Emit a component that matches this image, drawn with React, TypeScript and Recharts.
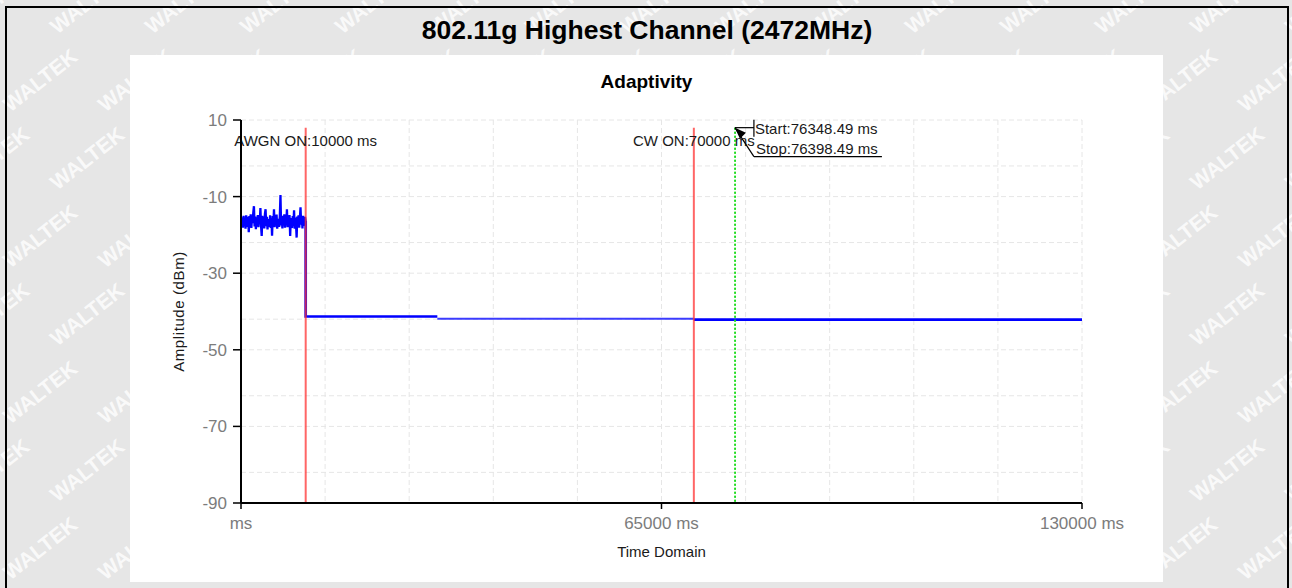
import React from 'react';
import { LineChart, Line, XAxis, YAxis, CartesianGrid, ReferenceLine } from 'recharts';

// ---------- data ----------
const noiseTimes = [
  0, 100, 200, 300, 400, 500, 600, 700, 800, 900,
  1000, 1100, 1200, 1300, 1400, 1500, 1600, 1700, 1800, 1900,
  2000, 2100, 2200, 2300, 2400, 2500, 2600, 2700, 2800, 2900,
  3000, 3100, 3200, 3300, 3400, 3500, 3600, 3700, 3800, 3900,
  4000, 4100, 4200, 4300, 4400, 4500, 4600, 4700, 4800, 4900,
  5000, 5100, 5200, 5300, 5400, 5500, 5600, 5700, 5800, 5900,
  6000, 6100, 6200, 6300, 6400, 6500, 6600, 6700, 6800, 6900,
  7000, 7100, 7200, 7300, 7400, 7500, 7600, 7700, 7800, 7900,
  8000, 8100, 8200, 8300, 8400, 8500, 8600, 8700, 8800, 8900,
  9000, 9100, 9200, 9300, 9400, 9500, 9600, 9700, 9800, 9900,
  10000,
];
const noiseValues = [
  -16.2, -17.5, -15.4, -18.1, -15.0, -17.2, -15.8, -18.4, -14.9, -16.6,
  -17.9, -15.3, -19.3, -15.1, -17.0, -14.6, -18.2, -15.5, -16.9, -14.2,
  -12.5, -17.8, -15.2, -18.5, -15.9, -17.1, -14.8, -18.0, -15.4, -16.8,
  -13.0, -17.6, -20.3, -15.0, -17.4, -15.7, -18.3, -14.5, -13.3, -17.7,
  -15.3, -18.6, -15.9, -16.4, -17.9, -14.9, -18.2, -15.6, -20.2, -15.1,
  -17.3, -13.3, -18.0, -15.5, -17.2, -14.7, -18.4, -15.8, -16.7, -17.9,
  -15.2, -9.6, -17.5, -15.4, -18.3, -15.0, -16.9, -14.6, -18.1, -15.7,
  -17.4, -13.3, -18.0, -15.3, -17.1, -14.8, -20.3, -15.6, -16.8, -18.2,
  -15.1, -17.6, -13.6, -18.4, -15.5, -17.0, -20.7, -15.2, -17.8, -14.9,
  -18.1, -15.7, -12.8, -17.3, -15.4, -18.3, -15.0, -16.9, -17.6, -15.3,
  -16.4,
];
const stepTimes1 = [10000, 10000, 30350];
const stepValues1 = [-16.4, -41.3, -41.3];
const stepTimes2 = [30350, 70000];
const stepValues2 = [-41.9, -41.9];
const stepTimes3 = [70000, 130000];
const stepValues3 = [-42.1, -42.1];

const xTicks = [0, 65000, 130000];
const yTicks = [10, -10, -30, -50, -70, -90];
const xGrid = [13000, 26000, 39000, 52000, 65000, 78000, 91000, 104000, 117000, 130000];
const yGrid = [10, -2, -10, -22, -30, -42, -50, -62, -70, -82, -90];

const awgnOnMs = [10000];
const cwOnMs = [70000];
const startMs = [76348.49];
const stopMs = [76398.49];
const markerTop = 8;

const mainTitle = '802.11g Highest Channel (2472MHz)';
const chartTitle = 'Adaptivity';
const yLabel = 'Amplitude (dBm)';
const xLabel = 'Time Domain';
const watermarkText = 'WALTEK';

const toData = (ts: number[], vs: number[]) => ts.map((t, i) => ({ t, v: vs[i] }));
const noiseData = toData(noiseTimes, noiseValues);
const step1 = toData(stepTimes1, stepValues1);
const step2 = toData(stepTimes2, stepValues2);
const step3 = toData(stepTimes3, stepValues3);

const FONT = '"Liberation Sans", Arial, sans-serif';

const Watermarks = () => {
  const items: React.ReactNode[] = [];
  for (let r = -1; r < 9; r++) {
    for (let c = -1; c < 15; c++) {
      const x = 40 + c * 95 + (r % 2 ? 47 : 0);
      const y = 80 + r * 78;
      items.push(
        <text
          key={`${r}-${c}`}
          x={x}
          y={y}
          transform={`rotate(-38 ${x} ${y})`}
          fontFamily={FONT}
          fontWeight="bold"
          fontSize={21}
          fill="#ffffff"
          fillOpacity={0.8}
          textAnchor="middle"
          dominantBaseline="central"
        >
          {watermarkText}
        </text>
      );
    }
  }
  return (
    <svg width={1292} height={588} style={{ position: 'absolute', left: 0, top: 0 }}>
      {items}
    </svg>
  );
};

const centeredLabel = (text: string) => (props: any) => {
  const vb = props.viewBox || {};
  return (
    <text x={vb.x} y={vb.y + 18} textAnchor="middle" fontFamily={FONT} fontSize={15} fill="#1a1a1a">
      {text}
    </text>
  );
};

const CalloutLabel = (props: any) => {
  const vb = props.viewBox || {};
  const x = vb.x;
  const y = vb.y;
  return (
    <g>
      <line x1={x} y1={y} x2={x + 19} y2={y} stroke="#000" strokeWidth={1.2} />
      <line x1={x + 19} y1={y - 8} x2={x + 19} y2={y + 9} stroke="#000" strokeWidth={1.2} />
      <line x1={x} y1={y} x2={x + 19} y2={y + 29} stroke="#000" strokeWidth={1.2} />
      <line x1={x + 19} y1={y + 29} x2={x + 147} y2={y + 29} stroke="#000" strokeWidth={1.2} />
      <polygon points={`${x},${y} ${x + 11},${y + 5} ${x + 5},${y + 11}`} fill="#000" />
      <text x={x + 20} y={y + 6} fontFamily={FONT} fontSize={15} fill="#1a1a1a">
        {`Start:${startMs[0]} ms`}
      </text>
      <text x={x + 21} y={y + 26} fontFamily={FONT} fontSize={15} fill="#1a1a1a">
        {`Stop:${stopMs[0]} ms`}
      </text>
    </g>
  );
};

export default function App() {
  return (
    <div style={{ position: 'relative', width: 1292, height: 588, overflow: 'hidden', background: '#e6e6e6' }}>
      <style>{`body{margin:0}`}</style>
      <Watermarks />
      <div
        style={{
          position: 'absolute',
          left: 5,
          top: 6,
          width: 1280,
          height: 600,
          border: '2px solid #000',
        }}
      />
      <div style={{ position: 'absolute', left: 130, top: 55, width: 1033, height: 527, background: '#fff' }} />
      <div
        style={{
          position: 'absolute',
          left: 0,
          top: 14,
          width: 1294,
          textAlign: 'center',
          fontFamily: FONT,
          fontWeight: 'bold',
          fontSize: 26.5,
          lineHeight: '32px',
          color: '#000',
        }}
      >
        {mainTitle}
      </div>
      <div
        style={{
          position: 'absolute',
          left: 130,
          top: 71,
          width: 1033,
          textAlign: 'center',
          fontFamily: FONT,
          fontWeight: 'bold',
          fontSize: 19,
          lineHeight: '22px',
          color: '#000',
        }}
      >
        {chartTitle}
      </div>
      <div style={{ position: 'absolute', left: 0, top: 0 }}>
        <LineChart width={1292} height={588} margin={{ top: 120, right: 210, bottom: 55, left: 181 }}>
          <CartesianGrid
            horizontalValues={yGrid}
            verticalValues={xGrid}
            stroke="#e6e6e6"
            strokeDasharray="5 3"
          />
          <XAxis
            dataKey="t"
            type="number"
            domain={[0, 130000]}
            ticks={xTicks}
            allowDataOverflow
            height={30}
            tickSize={6}
            tickMargin={8}
            axisLine={{ stroke: '#000', strokeWidth: 2 }}
            tickLine={{ stroke: '#000', strokeWidth: 1.5 }}
            tick={{ fill: '#7c7c7c', fontSize: 17, fontFamily: FONT }}
            tickFormatter={(v: number) => (v === 0 ? 'ms' : `${v} ms`)}
            label={(p: any) => {
              const vb = p.viewBox || {};
              return (
                <text x={vb.x + vb.width / 2} y={vb.y + 54} textAnchor="middle" fontFamily={FONT} fontSize={15} fill="#1a1a1a">
                  {xLabel}
                </text>
              );
            }}
          />
          <YAxis
            type="number"
            domain={[-90, 10]}
            ticks={yTicks}
            allowDataOverflow
            width={60}
            tickSize={8}
            tickMargin={6}
            axisLine={{ stroke: '#000', strokeWidth: 2 }}
            tickLine={{ stroke: '#000', strokeWidth: 1.5 }}
            tick={{ fill: '#7c7c7c', fontSize: 17, fontFamily: FONT }}
            label={(p: any) => {
              const vb = p.viewBox || {};
              const cx = vb.x - 3;
              const cy = vb.y + vb.height / 2;
              return (
                <text
                  x={cx}
                  y={cy}
                  transform={`rotate(-90 ${cx} ${cy})`}
                  textAnchor="middle"
                  dominantBaseline="central"
                  fontFamily={FONT}
                  fontSize={15}
                  letterSpacing={0.6}
                  fill="#1a1a1a"
                >
                  {yLabel}
                </text>
              );
            }}
          />
          <Line data={noiseData} dataKey="v" stroke="#0000ff" strokeWidth={2.3} dot={false} isAnimationActive={false} />
          <Line data={step1} dataKey="v" stroke="#0000ff" strokeWidth={2.7} dot={false} isAnimationActive={false} />
          <Line data={step2} dataKey="v" stroke="#1a1aff" strokeOpacity={0.85} strokeWidth={2} dot={false} isAnimationActive={false} />
          <Line data={step3} dataKey="v" stroke="#0000ff" strokeWidth={2.7} dot={false} isAnimationActive={false} />
          <ReferenceLine
            segment={[{ x: awgnOnMs[0], y: markerTop }, { x: awgnOnMs[0], y: -90 }]}
            stroke="#ff3333"
            strokeOpacity={0.75}
            strokeWidth={2}
            label={centeredLabel(`AWGN ON:${awgnOnMs[0]} ms`)}
          />
          <ReferenceLine
            segment={[{ x: cwOnMs[0], y: markerTop }, { x: cwOnMs[0], y: -90 }]}
            stroke="#ff3333"
            strokeOpacity={0.75}
            strokeWidth={2}
            label={centeredLabel(`CW ON:${cwOnMs[0]} ms`)}
          />
          <ReferenceLine
            segment={[{ x: stopMs[0], y: markerTop }, { x: stopMs[0], y: -90 }]}
            stroke="#22dd22"
            strokeWidth={1.5}
            strokeDasharray="2 2"
          />
          <ReferenceLine
            segment={[{ x: startMs[0], y: markerTop }, { x: startMs[0], y: -90 }]}
            stroke="#22dd22"
            strokeWidth={1.5}
            strokeDasharray="2 2"
            label={CalloutLabel}
          />
        </LineChart>
      </div>
    </div>
  );
}
